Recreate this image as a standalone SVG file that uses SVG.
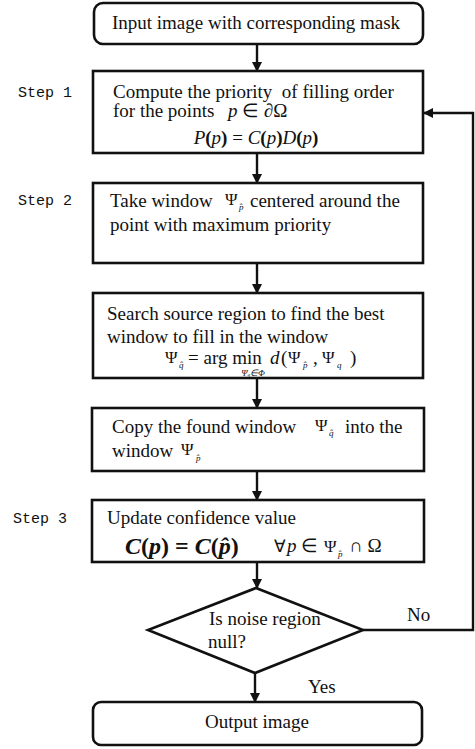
<svg xmlns="http://www.w3.org/2000/svg" width="475" height="749" viewBox="0 0 475 749">
<defs>
<marker id="ah" markerWidth="10" markerHeight="10" refX="9" refY="5" orient="auto" markerUnits="userSpaceOnUse">
<path d="M0,0 L10,5 L0,10 Z" fill="#111"/>
</marker>
<style>
.box{fill:#fff;stroke:#111;stroke-width:2.6}
.ln{fill:none;stroke:#111;stroke-width:2.4}
.t{font-family:"Liberation Serif","Times New Roman",serif;font-size:19px;fill:#111}
.m{font-family:"Liberation Serif","Times New Roman",serif;font-style:italic;font-size:19px;fill:#111}
.g{font-family:"Liberation Serif","Times New Roman",serif;font-size:17px;fill:#111}
.s{font-family:"Liberation Serif",serif;font-size:9px;font-style:italic;fill:#111}
.st{font-family:"Liberation Mono","Courier New",monospace;font-size:15px;fill:#111}
</style>
</defs>
<rect width="475" height="749" fill="#fff"/>
<g id="connectors">
<line class="ln" x1="257" y1="44" x2="257" y2="71" marker-end="url(#ah)"/>
<line class="ln" x1="257" y1="153" x2="257" y2="183" marker-end="url(#ah)"/>
<line class="ln" x1="257" y1="263" x2="257" y2="293" marker-end="url(#ah)"/>
<line class="ln" x1="257" y1="378" x2="257" y2="408" marker-end="url(#ah)"/>
<line class="ln" x1="257" y1="471" x2="257" y2="500" marker-end="url(#ah)"/>
<line class="ln" x1="257" y1="562" x2="257" y2="588" marker-end="url(#ah)"/>
<line class="ln" x1="255" y1="673" x2="255" y2="702" marker-end="url(#ah)"/>
<polyline class="ln" points="363,630 473,630 473,113 424,113" marker-end="url(#ah)"/>
<text class="t" x="407" y="621">No</text>
<text class="t" x="308" y="693">Yes</text>
</g>
<g id="start">
<rect class="box" x="94" y="3" width="329" height="41" rx="9"/>
<text class="t" x="256" y="29" text-anchor="middle">Input image with corresponding mask</text>
</g>
<g id="step1">
<text class="st" x="18" y="97">Step 1</text>
<rect class="box" x="93" y="71" width="330" height="82"/>
<text class="t" x="113" y="98" xml:space="preserve">Compute the priority  of filling order</text>
<text class="t" x="113" y="117">for the points</text>
<text class="m" x="228" y="117">p</text>
<text class="t" x="242" y="117">∈ ∂Ω</text>
<text class="m" x="256" y="144" text-anchor="middle" font-size="24">P<tspan font-style="normal" font-weight="bold">(</tspan>p<tspan font-style="normal" font-weight="bold">)</tspan><tspan font-style="normal"> = </tspan>C<tspan font-style="normal" font-weight="bold">(</tspan>p<tspan font-style="normal" font-weight="bold">)</tspan>D<tspan font-style="normal" font-weight="bold">(</tspan>p<tspan font-style="normal" font-weight="bold">)</tspan></text>
</g>
<g id="step2">
<text class="st" x="18" y="205">Step 2</text>
<rect class="box" x="93" y="183" width="330" height="80"/>
<text class="t" x="110" y="207">Take window</text>
<text class="g" x="225" y="205">Ψ</text>
<text class="s" x="239" y="210">p̂</text>
<text class="t" x="250" y="207">centered around the</text>
<text class="t" x="110" y="231">point with maximum priority</text>
</g>
<g id="search">
<rect class="box" x="93" y="293" width="330" height="85"/>
<text class="t" x="107" y="320">Search source region to find the best</text>
<text class="t" x="107" y="343">window to fill in the window</text>
<text class="g" x="165" y="363">Ψ</text>
<text class="s" x="179" y="368">q̂</text>
<text class="t" x="188" y="364">= arg min</text>
<text class="m" x="270" y="364">d</text>
<text class="t" x="281" y="364">(</text>
<text class="g" x="288" y="363">Ψ</text>
<text class="s" x="303" y="368">p̂</text>
<text class="t" x="313" y="364">,</text>
<text class="g" x="322" y="363">Ψ</text>
<text class="s" x="337" y="368">q</text>
<text class="t" x="350" y="364">)</text>
<text class="s" x="253" y="376" text-anchor="middle" font-size="7">Ψ<tspan font-size="5">q</tspan>∈Φ</text>
</g>
<g id="copy">
<rect class="box" x="92" y="408" width="332" height="63"/>
<text class="t" x="112" y="433">Copy the found window</text>
<text class="g" x="315" y="431">Ψ</text>
<text class="s" x="329" y="436">q̂</text>
<text class="t" x="345" y="433">into the</text>
<text class="t" x="112" y="457">window</text>
<text class="g" x="181" y="455">Ψ</text>
<text class="s" x="196" y="461">p̂</text>
</g>
<g id="step3">
<text class="st" x="13" y="523">Step 3</text>
<rect class="box" x="92" y="500" width="332" height="62"/>
<text class="t" x="107" y="524">Update confidence value</text>
<text x="125" y="554" font-family="Liberation Serif,serif" font-weight="bold" font-style="italic" font-size="24" fill="#111">C<tspan font-style="normal">(</tspan>p<tspan font-style="normal">) = </tspan>C<tspan font-style="normal">(</tspan>p̂<tspan font-style="normal">)</tspan></text>
<text class="g" x="274" y="552">∀</text>
<text class="m" x="287" y="552">p</text>
<text class="t" x="301" y="552">∈</text>
<text class="g" x="324" y="552">Ψ</text>
<text class="s" x="338" y="557">p̂</text>
<text class="t" x="349" y="552">∩ Ω</text>
</g>
<g id="decision">
<polygon class="box" points="256,588 363,630 255,673 148,630"/>
<text class="t" x="209" y="625">Is noise region</text>
<text class="t" x="208" y="648">null?</text>
</g>
<g id="end">
<rect class="box" x="93" y="702" width="329" height="43" rx="8"/>
<text class="t" x="257" y="728" text-anchor="middle">Output image</text>
</g>
</svg>
